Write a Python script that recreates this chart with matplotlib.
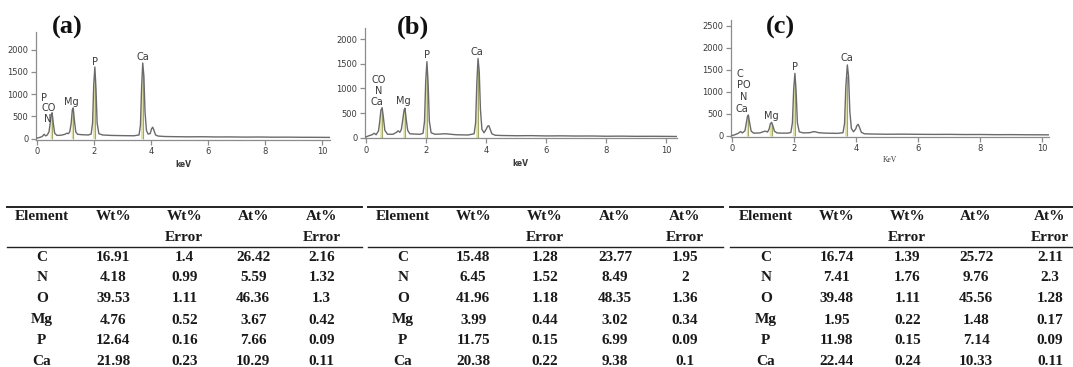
import numpy as np
import matplotlib
matplotlib.use("Agg")
import matplotlib.pyplot as plt
from matplotlib.lines import Line2D

W, H = 1073, 367

# ---------------------------------------------------------------------------
# Spectra (keV, counts)
# ---------------------------------------------------------------------------
kev_a = [0.0, 0.1, 0.18, 0.25, 0.3, 0.36, 0.42, 0.46, 0.5, 0.53, 0.57, 0.62, 0.7,
         0.85, 0.98, 1.05, 1.1, 1.15, 1.2, 1.24, 1.27, 1.31, 1.36, 1.42, 1.6, 1.8,
         1.9, 1.95, 1.99, 2.03, 2.07, 2.11, 2.17, 2.3, 2.6, 3.0, 3.4, 3.58, 3.63,
         3.67, 3.71, 3.75, 3.79, 3.84, 3.9, 3.97, 4.02, 4.06, 4.1, 4.16, 4.25,
         4.5, 4.8, 5.3, 5.8, 6.3, 6.8, 7.3, 7.8, 8.3, 8.8, 9.3, 9.8, 10.28]
cnt_a = [10, 25, 45, 95, 60, 80, 150, 330, 540, 580, 350, 120, 70,
         75, 95, 120, 110, 150, 350, 650, 690, 420, 150, 95, 85, 80,
         100, 350, 1200, 1610, 1100, 350, 110, 80, 70, 65, 62, 80, 300,
         1150, 1700, 1400, 600, 180, 100, 110, 220, 255, 190, 80, 55,
         45, 42, 38, 40, 35, 36, 32, 34, 30, 31, 28, 27, 25]

kev_b = [0.0, 0.1, 0.2, 0.28, 0.34, 0.42, 0.46, 0.5, 0.54, 0.58, 0.63, 0.72,
         0.9, 1.02, 1.07, 1.13, 1.18, 1.23, 1.27, 1.3, 1.34, 1.39, 1.46, 1.6, 1.8,
         1.9, 1.95, 1.99, 2.03, 2.07, 2.11, 2.17, 2.3, 2.65, 3.0, 3.4, 3.6, 3.65,
         3.69, 3.73, 3.77, 3.81, 3.86, 3.93, 4.0, 4.05, 4.09, 4.13, 4.19, 4.3,
         4.5, 5.0, 5.5, 6.0, 6.5, 7.0, 7.5, 8.0, 8.5, 9.0, 9.5, 10.0, 10.34]
cnt_b = [15, 40, 60, 90, 60, 140, 330, 560, 610, 420, 150, 70,
         70, 110, 140, 110, 170, 380, 560, 600, 380, 150, 80, 75, 70,
         90, 330, 1150, 1545, 1100, 340, 100, 70, 80, 60, 55, 80, 300,
         1100, 1610, 1350, 580, 170, 100, 170, 235, 244, 180, 80, 50,
         45, 40, 42, 36, 38, 34, 35, 30, 32, 28, 29, 27, 25]

kev_c = [0.0, 0.1, 0.2, 0.28, 0.34, 0.42, 0.46, 0.5, 0.53, 0.57, 0.62, 0.7,
         0.9, 1.02, 1.08, 1.15, 1.2, 1.24, 1.28, 1.32, 1.37, 1.45, 1.6, 1.8, 1.9,
         1.95, 1.99, 2.03, 2.07, 2.11, 2.17, 2.3, 2.5, 2.65, 2.8, 3.0, 3.4, 3.58,
         3.63, 3.67, 3.72, 3.76, 3.8, 3.85, 3.92, 3.99, 4.03, 4.07, 4.11, 4.17,
         4.27, 4.5, 5.0, 5.5, 6.0, 6.5, 7.0, 7.5, 8.0, 8.5, 9.0, 9.5, 10.0, 10.23]
cnt_c = [10, 30, 60, 100, 70, 120, 280, 440, 477, 300, 110, 65,
         70, 100, 110, 90, 160, 280, 310, 230, 110, 70, 65, 65, 80,
         300, 1050, 1424, 1000, 300, 95, 70, 75, 100, 75, 65, 60, 75,
         280, 1100, 1614, 1350, 560, 170, 95, 160, 240, 265, 200, 85,
         50, 45, 40, 42, 38, 36, 37, 33, 34, 30, 31, 28, 27, 26]

# yellow peak windows (keV)
fill_a = [(0.46, 0.53), (1.2, 1.27), (1.95, 2.03), (3.63, 3.71)]
fill_b = [(0.46, 0.54), (1.23, 1.3), (1.95, 2.03), (3.65, 3.73)]
fill_c = [(0.46, 0.53), (1.2, 1.28), (1.95, 2.03), (3.63, 3.72)]

# peak annotations: (text, keV, counts)
labels_a = [("P", 0.25, 918), ("CO", 0.40, 680), ("N", 0.36, 432),
            ("Mg", 1.2, 815), ("P", 2.04, 1730), ("Ca", 3.73, 1842)]
labels_b = [("CO", 0.41, 1171), ("N", 0.41, 955), ("Ca", 0.38, 732),
            ("Mg", 1.26, 746), ("P", 2.03, 1681), ("Ca", 3.70, 1748)]
labels_c = [("C", 0.26, 1409), ("PO", 0.37, 1159), ("N", 0.37, 893),
            ("Ca", 0.31, 614), ("Mg", 1.26, 455), ("P", 2.03, 1561),
            ("Ca", 3.71, 1766)]

yticks_a = [0, 500, 1000, 1500, 2000]
yticks_b = [0, 500, 1000, 1500, 2000]
yticks_c = [0, 500, 1000, 1500, 2000, 2500]
xticks = [0, 2, 4, 6, 8, 10]

# ---------------------------------------------------------------------------
# Tables
# ---------------------------------------------------------------------------
elements = ["C", "N", "O", "Mg", "P", "Ca"]

wt_a     = [16.91, 4.18, 39.53, 4.76, 12.64, 21.98]
wt_err_a = [1.4, 0.99, 1.11, 0.52, 0.16, 0.23]
at_a     = [26.42, 5.59, 46.36, 3.67, 7.66, 10.29]
at_err_a = [2.16, 1.32, 1.3, 0.42, 0.09, 0.11]

wt_b     = [15.48, 6.45, 41.96, 3.99, 11.75, 20.38]
wt_err_b = [1.28, 1.52, 1.18, 0.44, 0.15, 0.22]
at_b     = [23.77, 8.49, 48.35, 3.02, 6.99, 9.38]
at_err_b = [1.95, 2, 1.36, 0.34, 0.09, 0.1]

wt_c     = [16.74, 7.41, 39.48, 1.95, 11.98, 22.44]
wt_err_c = [1.39, 1.76, 1.11, 0.22, 0.15, 0.24]
at_c     = [25.72, 9.76, 45.56, 1.48, 7.14, 10.33]
at_err_c = [2.11, 2.3, 1.28, 0.17, 0.09, 0.11]

fig = plt.figure(figsize=(W / 100, H / 100), dpi=100)
fig.patch.set_facecolor("white")

AX_COL = "#8c8c8c"
LINE_COL = "#6a6a6a"
FILL_COL = "#e0e3a8"
TXT_COL = "#3a3a3a"


def px_axes(left, right, top, bottom):
    return fig.add_axes([left / W, 1 - bottom / H, (right - left) / W, (bottom - top) / H])


def spectrum(rect, xlim, ylim, kev, cnt, fills, labels, yticks, tag, tag_xy,
             xlab, xlab_kw):
    ax = px_axes(*rect)
    x = np.array(kev)
    y = np.array(cnt)
    for lo, hi in fills:
        m = (x >= lo) & (x <= hi)
        ax.fill_between(x, 0, y, where=m, color=FILL_COL, lw=0, zorder=1)
        ax.vlines(hi, 0, np.interp(hi, x, y) * 0.85, color="#a3a86a", lw=0.8, zorder=2)
    ax.plot(x, y, color=LINE_COL, lw=1.0, zorder=3)
    for t, lx, ly in labels:
        ax.text(lx, ly, t, ha="center", va="center", fontsize=7,
                color=TXT_COL, family="DejaVu Sans")
    ax.set_xlim(*xlim)
    ax.set_ylim(*ylim)
    ax.set_xticks(xticks)
    ax.set_yticks(yticks)
    for s in ["top", "right"]:
        ax.spines[s].set_visible(False)
    for s in ["left", "bottom"]:
        ax.spines[s].set_color(AX_COL)
        ax.spines[s].set_linewidth(0.9)
    ax.tick_params(colors=AX_COL, length=3.5, width=0.9, labelsize=6,
                   labelcolor=TXT_COL, pad=2)
    ax.set_facecolor("none")
    ax.set_xlabel(xlab, **xlab_kw)
    fig.text(tag_xy[0] / W, 1 - tag_xy[1] / H, tag, ha="center", va="center",
             fontsize=19, fontweight="bold", family="Liberation Serif",
             color="#111111")
    return ax


spectrum((36, 330, 31.7, 139.5), (-0.035, 10.28), (-22, 2405),
         kev_a, cnt_a, fill_a, labels_a, yticks_a, "(a)", (67, 27),
         "keV", dict(fontsize=5.5, fontweight="bold", color=TXT_COL, labelpad=3))
spectrum((365, 676.7, 28.3, 138.3), (-0.03, 10.34), (-12, 2223),
         kev_b, cnt_b, fill_b, labels_b, yticks_b, "(b)", (413, 27),
         "keV", dict(fontsize=5.5, fontweight="bold", color=TXT_COL, labelpad=3))
spectrum((731, 1049.3, 20, 136.7), (-0.03, 10.23), (-16, 2636),
         kev_c, cnt_c, fill_c, labels_c, yticks_c, "(c)", (780, 27),
         "KeV", dict(fontsize=5.5, family="Liberation Serif", color=TXT_COL,
                     labelpad=2))

# ---------------------------------------------------------------------------
# Tables
# ---------------------------------------------------------------------------
TFONT = dict(family="Liberation Serif", fontweight="bold", fontsize=11,
             color="#1a1a1a", ha="center", va="center")

header_top = ["Element", "Wt%", "Wt%", "At%", "At%"]
header_bot = ["", "", "Error", "", "Error"]
row_y = [257.7, 277.3, 299, 320, 341, 361.7]
tables = [
    ((7.3, 362), [41.7, 113.3, 184.3, 253.3, 321.7], wt_a, wt_err_a, at_a, at_err_a),
    ((368, 723), [402.7, 473.3, 545, 615, 685], wt_b, wt_err_b, at_b, at_err_b),
    ((730, 1073), [765.7, 836.7, 907.3, 976, 1050], wt_c, wt_err_c, at_c, at_err_c),
]

for (x0, x1), cols, wt, wte, at, ate in tables:
    fig.add_artist(Line2D([x0 / W, x1 / W], [1 - 206.7 / H] * 2, color="#222222",
                          lw=1.4, transform=fig.transFigure))
    fig.add_artist(Line2D([x0 / W, x1 / W], [1 - 246.7 / H] * 2, color="#222222",
                          lw=1.0, transform=fig.transFigure))
    for cx, h1, h2 in zip(cols, header_top, header_bot):
        fig.text(cx / W, 1 - 216.7 / H, h1, **TFONT)
        if h2:
            fig.text(cx / W, 1 - 237.7 / H, h2, **TFONT)
    for i, el in enumerate(elements):
        vals = [el, f"{wt[i]:g}", f"{wte[i]:g}", f"{at[i]:g}", f"{ate[i]:g}"]
        for cx, v in zip(cols, vals):
            fig.text(cx / W, 1 - row_y[i] / H, v, **TFONT)

fig.savefig("out.png", dpi=100, facecolor="white")
